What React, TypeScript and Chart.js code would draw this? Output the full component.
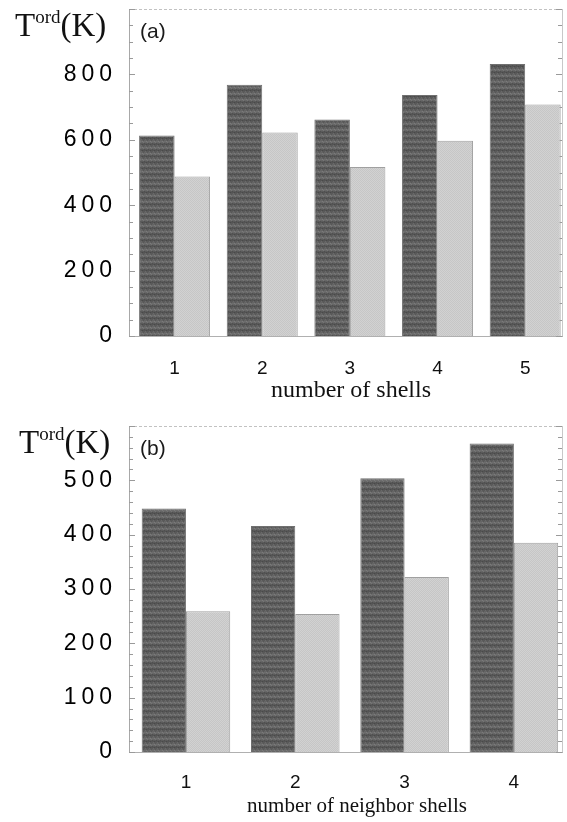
import React, { useEffect, useRef } from 'react';
import { Chart, registerables } from 'chart.js';
Chart.register(...registerables);

// ---- Panel (a) data ----
const shellsA = [1, 2, 3, 4, 5];
const darkA = [613, 768, 662, 737, 832];
const lightA = [488, 622, 517, 597, 708];
const yTicksA = [0, 200, 400, 600, 800];

// ---- Panel (b) data ----
const shellsB = [1, 2, 3, 4];
const darkB = [448, 416, 504, 568];
const lightB = [259, 254, 322, 385];
const yTicksB = [0, 100, 200, 300, 400, 500];

const SANS = "'Liberation Sans', Arial, Helvetica, sans-serif";
const SERIF = "'Liberation Serif', 'Times New Roman', serif";
const Y_SPACING = 5;

function darkPattern(ctx: CanvasRenderingContext2D) {
  const c = document.createElement('canvas');
  c.width = 4; c.height = 6;
  const g = c.getContext('2d')!;
  const rows = ['#545454', '#5a5a5a', '#646464', '#6c6c6c', '#666666', '#5b5b5b'];
  rows.forEach((col, i) => { g.fillStyle = col; g.fillRect(0, i, 4, 1); });
  g.fillStyle = 'rgba(255,255,255,0.10)';
  g.fillRect(1, 1, 1, 1); g.fillRect(3, 4, 1, 1); g.fillRect(2, 3, 1, 1);
  g.fillStyle = 'rgba(0,0,0,0.12)';
  g.fillRect(2, 0, 1, 1); g.fillRect(0, 5, 1, 1); g.fillRect(3, 2, 1, 1);
  return ctx.createPattern(c, 'repeat')!;
}

function lightPattern(ctx: CanvasRenderingContext2D) {
  const c = document.createElement('canvas');
  c.width = 2; c.height = 2;
  const g = c.getContext('2d')!;
  g.fillStyle = '#d2d2d2'; g.fillRect(0, 0, 2, 2);
  g.fillStyle = '#c6c6c6'; g.fillRect(0, 0, 1, 1); g.fillRect(1, 1, 1, 1);
  return ctx.createPattern(c, 'repeat')!;
}

interface PanelCfg {
  cats: number[];
  dark: number[];
  light: number[];
  yTicks: number[];
  yMax: number;
  minor: number;
  major: number;
  xMin: number;
  xMax: number;
  padTop: number;
  xHeight: number;
  xPad: number;
  letter: string;
  letterY: number;
  labelY: number;
  labelX: number;
  title: string;
  titleX: number;
  titleY: number;
  titleSize: number;
}

function makeChart(canvas: HTMLCanvasElement, p: PanelCfg) {
  const ctx = canvas.getContext('2d')!;
  const frame = {
    id: 'frame',
    beforeDatasetsDraw(chart: any) {
      const { ctx: c, chartArea: a, scales } = chart;
      const y = scales.y;
      c.save();
      c.lineWidth = 1;
      c.strokeStyle = '#c2c2c2';
      c.setLineDash([3, 2]);
      c.beginPath(); c.moveTo(a.left, a.top + 0.5); c.lineTo(a.right, a.top + 0.5); c.stroke();
      c.setLineDash([]);
      c.strokeStyle = '#c8c8c8';
      c.beginPath(); c.moveTo(a.right + 0.5, a.top); c.lineTo(a.right + 0.5, a.bottom); c.stroke();
      c.strokeStyle = '#9a9a9a';
      for (let v = 0; v <= p.yMax; v += p.minor) {
        const py = Math.round(y.getPixelForValue(v)) + 0.5;
        const len = v % p.major === 0 ? 6 : 4;
        c.beginPath(); c.moveTo(a.left, py); c.lineTo(a.left + len, py); c.stroke();
        c.beginPath(); c.moveTo(a.right - len, py); c.lineTo(a.right, py); c.stroke();
      }
      c.restore();
    },
    afterDraw(chart: any) {
      const c = chart.ctx as CanvasRenderingContext2D;
      c.save();
      (c as any).letterSpacing = '0px';
      c.fillStyle = '#111';
      c.textAlign = 'left';
      c.textBaseline = 'alphabetic';
      let x = p.labelX;
      c.font = `33px ${SERIF}`;
      c.fillText('T', x, p.labelY); x += c.measureText('T').width;
      c.font = `19px ${SERIF}`;
      c.fillText('ord', x, p.labelY - 13); x += c.measureText('ord').width;
      c.font = `33px ${SERIF}`;
      c.fillText('(K)', x, p.labelY);
      c.font = `21px ${SANS}`;
      c.fillStyle = '#1a1a1a';
      c.fillText(p.letter, 140, p.letterY);
      c.font = `${p.titleSize}px ${SERIF}`;
      c.fillStyle = '#111';
      c.textAlign = 'center';
      c.fillText(p.title, p.titleX, p.titleY);
      c.restore();
    },
  };

  return new Chart(canvas, {
    type: 'bar',
    data: {
      datasets: [
        {
          label: 'dark',
          data: p.cats.map((x, i) => ({ x, y: p.dark[i] })),
          backgroundColor: darkPattern(ctx),
          borderColor: '#707070',
          borderWidth: 1,
        },
        {
          label: 'light',
          data: p.cats.map((x, i) => ({ x, y: p.light[i] })),
          backgroundColor: lightPattern(ctx),
          borderColor: '#a0a0a0',
          borderWidth: 1,
        },
      ],
    },
    options: {
      animation: false,
      responsive: false,
      maintainAspectRatio: false,
      datasets: { bar: { categoryPercentage: 0.81, barPercentage: 1.0, grouped: true } },
      layout: { padding: { left: 0, right: 5, top: p.padTop, bottom: 0 } },
      plugins: { legend: { display: false }, tooltip: { enabled: false }, title: { display: false } },
      scales: {
        x: {
          type: 'linear',
          min: p.xMin,
          max: p.xMax,
          offset: false,
          afterBuildTicks: (s: any) => { s.ticks = p.cats.map((v) => ({ value: v })); },
          afterFit: (s: any) => {
            s.height = p.xHeight;
            s.paddingLeft = 0; s.paddingRight = 0; s.paddingTop = 0; s.paddingBottom = 0;
          },
          grid: { display: false, drawTicks: false },
          border: { display: true, color: '#b0b0b0', width: 1 },
          ticks: { color: '#111', font: { family: SANS, size: 19 }, padding: p.xPad, maxRotation: 0, autoSkip: false },
        },
        y: {
          min: 0,
          max: p.yMax,
          afterBuildTicks: (s: any) => { s.ticks = p.yTicks.map((v) => ({ value: v })); },
          afterFit: (s: any) => {
            s.width = 129;
            s.paddingLeft = 0; s.paddingRight = 0; s.paddingTop = 0; s.paddingBottom = 0;
            if (!s.__spaced) {
              s.__spaced = true;
              const orig = s.drawLabels.bind(s);
              s.drawLabels = (area: any) => {
                const c = s.ctx as any;
                c.save();
                c.letterSpacing = `${Y_SPACING}px`;
                orig(area);
                c.restore();
              };
            }
          },
          grid: { display: false, drawTicks: false },
          border: { display: true, color: '#a8a8a8', width: 1 },
          ticks: { color: '#000', font: { family: SANS, size: 23 }, padding: 17 - Y_SPACING },
        },
      },
    },
    plugins: [frame],
  } as any);
}

export default function App() {
  const refA = useRef<HTMLCanvasElement>(null);
  const refB = useRef<HTMLCanvasElement>(null);
  useEffect(() => {
    document.body.style.margin = '0';
    const a = makeChart(refA.current!, {
      cats: shellsA, dark: darkA, light: lightA, yTicks: yTicksA,
      yMax: 1000, minor: 50, major: 200, xMin: 0.48, xMax: 5.42,
      padTop: 9, xHeight: 75, xPad: 21,
      letter: '(a)', letterY: 38, labelY: 36, labelX: 15,
      title: 'number of shells', titleX: 351, titleY: 397, titleSize: 24,
    });
    const b = makeChart(refB.current!, {
      cats: shellsB, dark: darkB, light: lightB, yTicks: yTicksB,
      yMax: 600, minor: 20, major: 100, xMin: 0.479, xMax: 4.44,
      padTop: 15, xHeight: 70, xPad: 19,
      letter: '(b)', letterY: 44, labelY: 42, labelX: 19,
      title: 'number of neighbor shells', titleX: 357, titleY: 401, titleSize: 21,
    });
    return () => { a.destroy(); b.destroy(); };
  }, []);
  return (
    <div style={{ width: 567, height: 822, background: '#fff' }}>
      <canvas ref={refA} width={567} height={411} style={{ display: 'block', width: 567, height: 411 }} />
      <canvas ref={refB} width={567} height={411} style={{ display: 'block', width: 567, height: 411 }} />
    </div>
  );
}
